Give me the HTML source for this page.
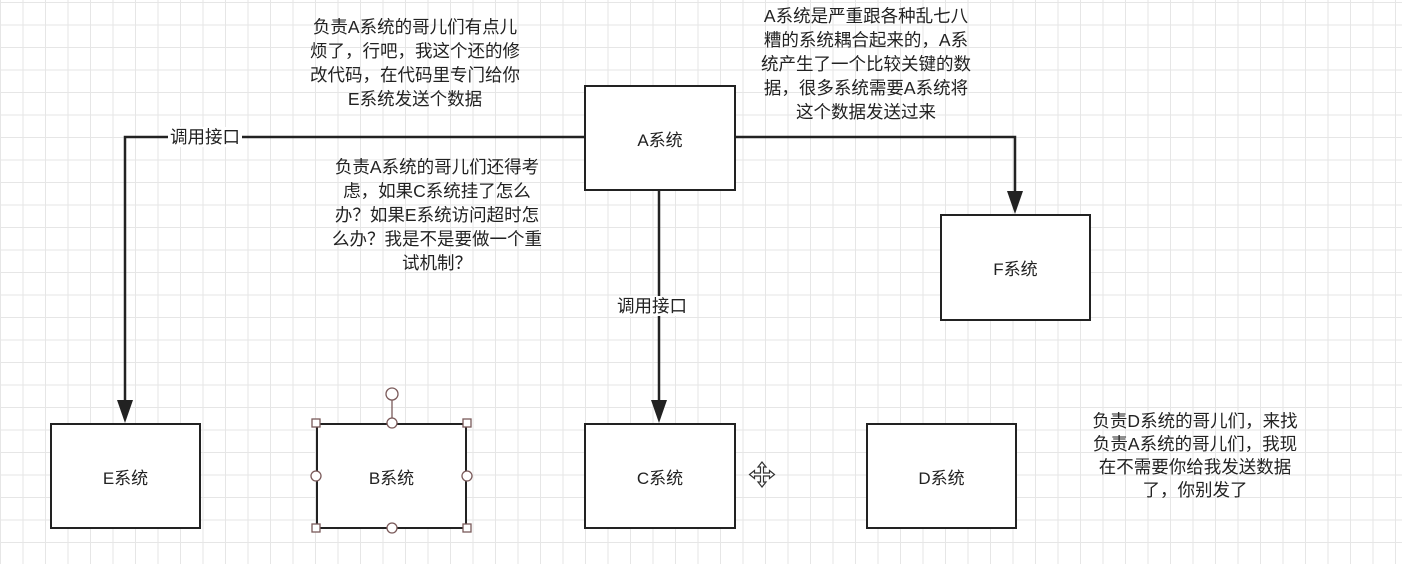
<!DOCTYPE html>
<html><head><meta charset="utf-8"><style>
body{margin:0;width:1402px;height:564px;overflow:hidden;background:#fff;
background-image:linear-gradient(to right,#e6e6e6 1px,transparent 1px),linear-gradient(to bottom,#e6e6e6 1px,transparent 1px);
background-size:22.5px 22.5px;background-position:0 2px;position:relative;
font-family:"Liberation Sans","Noto Sans CJK SC",sans-serif;color:#222}
.box{position:absolute;border:2px solid #222;background:#fff;box-sizing:border-box;display:flex;align-items:center;justify-content:center;font-size:17px}
.t{position:absolute;font-size:17.5px;line-height:24px;text-align:center;white-space:nowrap}
.lbl{position:absolute;background:#fff;font-size:17.5px;line-height:20px;padding:0 2px}
</style></head><body>
<svg width="1402" height="564" style="position:absolute;left:0;top:0">
<g stroke="#222" stroke-width="2.5" fill="none">
<polyline points="584,137 125,137 125,408"/>
<polyline points="659,190 659,408"/>
<polyline points="735,137 1015,137 1015,199"/>
</g>
<g fill="#222">
<polygon points="117,400 133,400 125,423"/>
<polygon points="651,400 667,400 659,423"/>
<polygon points="1007,191 1023,191 1015,214"/>
</g>
</svg>
<div class="box" style="left:584px;top:85px;width:152px;height:106px">A系统</div>
<div class="box" style="left:50px;top:423px;width:151px;height:106px">E系统</div>
<div class="box" style="left:316px;top:423px;width:151px;height:106px">B系统</div>
<div class="box" style="left:584px;top:423px;width:152px;height:106px">C系统</div>
<div class="box" style="left:866px;top:423px;width:151px;height:106px">D系统</div>
<div class="box" style="left:940px;top:214px;width:151px;height:107px">F系统</div>
<svg width="1402" height="564" style="position:absolute;left:0;top:0">
<g stroke="#7a5a5a" stroke-width="1.3" fill="#fff">
<line x1="392" y1="400" x2="392" y2="423"/>
<circle cx="392" cy="394" r="6"/>
<rect x="312" y="419" width="8" height="8"/><rect x="463" y="419" width="8" height="8"/>
<rect x="312" y="524" width="8" height="8"/><rect x="463" y="524" width="8" height="8"/>
<circle cx="392" cy="423" r="5"/><circle cx="392" cy="528" r="5"/>
<circle cx="316" cy="476" r="5"/><circle cx="467" cy="476" r="5"/>
</g>
<g fill="#fff" stroke="#333" stroke-width="1.2">
<path d="M762 462 l4 5 h-2.5 v6 h6 v-2.5 l5 4 -5 4 v-2.5 h-6 v6 h2.5 l-4 5 -4 -5 h2.5 v-6 h-6 v2.5 l-5 -4 5 -4 v2.5 h6 v-6 h-2.5z"/>
</g>
</svg>
<div class="lbl" style="left:168px;top:127px">调用接口</div>
<div class="lbl" style="left:615px;top:296px">调用接口</div>
<div class="t" style="left:415px;top:15px;transform:translateX(-50%)">负责A系统的哥儿们有点儿<br>烦了，行吧，我这个还的修<br>改代码，在代码里专门给你<br>E系统发送个数据</div>
<div class="t" style="left:437px;top:155px;transform:translateX(-50%)">负责A系统的哥儿们还得考<br>虑，如果C系统挂了怎么<br>办？如果E系统访问超时怎<br>么办？我是不是要做一个重<br>试机制？</div>
<div class="t" style="left:866px;top:4px;transform:translateX(-50%)">A系统是严重跟各种乱七八<br>糟的系统耦合起来的，A系<br>统产生了一个比较关键的数<br>据，很多系统需要A系统将<br>这个数据发送过来</div>
<div class="t" style="left:1195px;top:410px;line-height:23px;transform:translateX(-50%)">负责D系统的哥儿们，来找<br>负责A系统的哥儿们，我现<br>在不需要你给我发送数据<br>了，你别发了</div>
</body></html>
